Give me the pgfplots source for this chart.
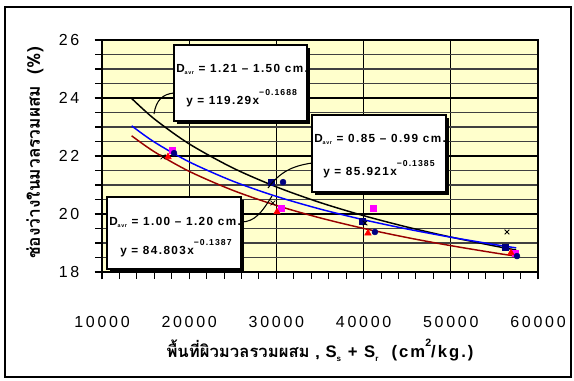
\documentclass[border=0pt]{standalone}
\usepackage{pgfplots}
\pgfplotsset{compat=1.18}
\usepackage{fontspec}
\setmainfont{Liberation Sans}
\newfontfamily\thai[Script=Thai]{Loma}
\newfontfamily\lsp[LetterSpace=17]{Liberation Sans}
\newfontfamily\lspb[LetterSpace=12]{Liberation Sans}
\definecolor{navy}{RGB}{0,0,128}
\definecolor{plotbg}{RGB}{255,255,204}
\definecolor{dred}{RGB}{153,0,0}
\definecolor{tblue}{RGB}{0,0,255}
\definecolor{mag}{RGB}{255,0,255}
\definecolor{rred}{RGB}{255,0,0}
\newcommand{\expo}[1]{\raisebox{1.3ex}{\fontsize{6.5}{6.5}\selectfont\lspb\bfseries #1}}
\newcommand{\Davr}[1]{{\fontsize{8.8}{9}\selectfont\lspb\bfseries D\raisebox{-0.4ex}{\fontsize{4}{4}\selectfont avr} = #1}}
\begin{document}
\begin{tikzpicture}
\begin{scope}[x=0.75pt,y=0.75pt]
\fill[white] (0,0) rectangle (574,380);
\draw[line width=1.5pt] (5,3) rectangle (571,373);
\end{scope}
\begin{axis}[
  at={(76.5pt,81pt)}, anchor=south west,
  scale only axis, width=327pt, height=174pt,
  xmin=10000, xmax=60000, ymin=18, ymax=26,
  axis background/.style={fill=plotbg},
  xtick={10000,20000,...,60000}, minor x tick num=4,
  ytick={18,20,...,26}, minor y tick num=3,
  xmajorgrids, ymajorgrids, yminorgrids,
  major grid style={black, line width=0.8pt},
  minor grid style={black!75, line width=0.8pt},
  axis line style={line width=1.5pt},
  tick align=outside, xtick pos=left, ytick pos=left,
  major tick length=5.5pt, minor tick length=5pt,
  tick style={black, line width=0.8pt},
  scaled ticks=false,
  /pgf/number format/1000 sep={},
  /pgf/number format/assume math mode=true,
  tick label style={font=\fontsize{12}{12}\selectfont\lsp},
  xticklabel style={yshift=-24pt},
  yticklabel style={xshift=-8pt},
  clip=false,
]
\addplot[black, line width=1.1pt, smooth] coordinates {
(13400,23.985) (16000,23.278) (20000,22.418) (25000,21.589) (30000,20.935) (35000,20.397) (40000,19.943) (45000,19.550) (50000,19.205) (55000,18.899) (57500,18.757)};
\addplot[tblue, line width=1.1pt, smooth] coordinates {
(13400,23.041) (16000,22.482) (20000,21.798) (25000,21.134) (30000,20.607) (35000,20.172) (40000,19.802) (45000,19.482) (50000,19.200) (55000,18.948) (57500,18.832)};
\addplot[dred, line width=1.1pt, smooth] coordinates {
(13400,22.697) (16000,22.146) (20000,21.471) (25000,20.817) (30000,20.297) (35000,19.867) (40000,19.503) (45000,19.187) (50000,18.909) (55000,18.660) (57500,18.546)};
% markers
\addplot[only marks, mark=square*, mark size=2.2pt, navy] coordinates {(29380,21.1) (39800,19.76) (56220,18.86)};
\addplot[only marks, mark=square*, mark size=2.2pt, mag] coordinates {(18030,22.2) (30530,20.2) (41080,20.2) (57360,18.65)};
\addplot[only marks, mark=triangle*, mark size=2.8pt, rred] coordinates {(17570,21.97) (30070,20.07) (40500,19.34) (56900,18.66)};
\addplot[only marks, mark=x, mark size=2.5pt, black, line width=0.6pt] coordinates {(17000,21.97) (29600,20.38) (40160,19.69) (56440,19.38)};
\addplot[only marks, mark=*, mark size=2.2pt, navy] coordinates {(18260,22.1) (30760,21.1) (41300,19.38) (57590,18.55)};
\end{axis}
\begin{scope}[x=0.75pt,y=0.75pt]
% leaders
\draw[line width=0.8pt] (154,266) .. controls (156,280) and (163,286) .. (174,287);
\draw[line width=0.8pt] (268,192) .. controls (280,208) and (292,214) .. (312,217);
\draw[line width=0.8pt] (241,158) .. controls (255,158) and (262,168) .. (272,184);
% boxes
\foreach \a/\b/\c/\d in {174/259/307/335, 312/188/446/265, 107/111/241/183}{
  \fill[black] (\a+2.5,\b-2.5) rectangle (\c+2.5,\d-2.5);
  \filldraw[fill=white, draw=black, line width=0.8pt] (\a,\b) rectangle (\c,\d);
}
\node[anchor=base west, inner sep=0] at (176,308) {\Davr{1.21 – 1.50 cm.}};
\node[anchor=base west, inner sep=0] at (186,276) {\fontsize{8.8}{9}\selectfont\lspb\bfseries y = 119.29x\expo{−0.1688}};
\node[anchor=base west, inner sep=0] at (314,238) {\Davr{0.85 – 0.99 cm.}};
\node[anchor=base west, inner sep=0] at (323,205) {\fontsize{8.8}{9}\selectfont\lspb\bfseries y = 85.921x\expo{−0.1385}};
\node[anchor=base west, inner sep=0] at (109,155) {\Davr{1.00 – 1.20 cm.}};
\node[anchor=base west, inner sep=0] at (120,126) {\fontsize{8.8}{9}\selectfont\lspb\bfseries y = 84.803x\expo{−0.1387}};
% axis labels
\node[rotate=90] at (35,227) {\fontsize{13}{13}\selectfont\thai\bfseries ช่องว่างในมวลรวมผสม\ \ (\%)};
\node at (320,30) {\fontsize{12.5}{12.5}\selectfont\thai\bfseries พื้นที่ผิวมวลรวมผสม\ ,\ {\lspb S\raisebox{-0.4ex}{\fontsize{6}{6}\selectfont s} + S\raisebox{-0.4ex}{\fontsize{6}{6}\selectfont r}\ \ (cm\raisebox{1.3ex}{\fontsize{8}{8}\selectfont 2}/kg.)}};
\end{scope}
\end{tikzpicture}
\end{document}
